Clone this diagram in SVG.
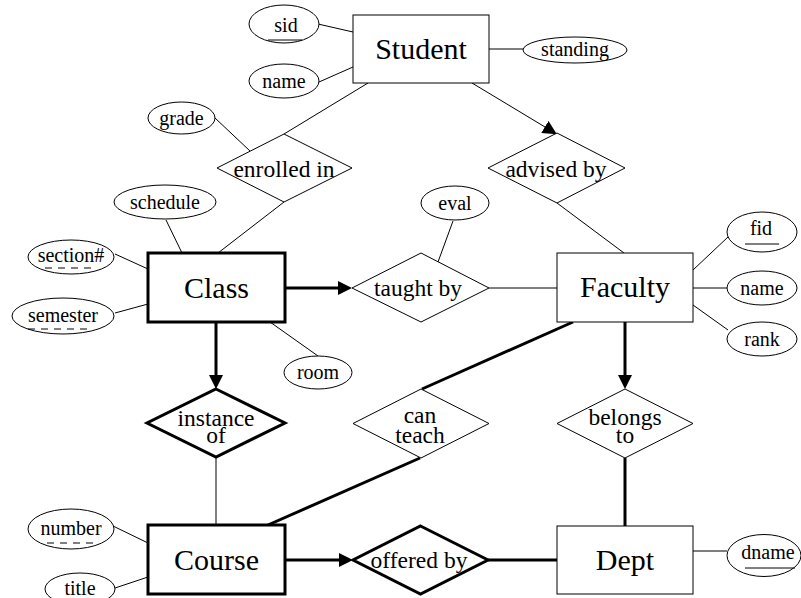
<svg xmlns="http://www.w3.org/2000/svg" width="801" height="598" viewBox="0 0 801 598">
<style>
text{font-family:"Liberation Serif","Times New Roman",serif;fill:#000;text-anchor:middle}
.ent{font-size:30px}
.rel{font-size:23.5px}
.att{font-size:20px}
.box{fill:#fff;stroke:#000;stroke-width:1}
.tbox{fill:#fff;stroke:#000;stroke-width:3}
.ell{fill:#fff;stroke:#000;stroke-width:1}
.thin{stroke:#000;stroke-width:1;fill:none}
.thick{stroke:#000;stroke-width:3;fill:none}
.key{stroke:#000;stroke-width:1}
.pkey{stroke:#000;stroke-width:1;stroke-dasharray:7 6}
</style>
<defs>
<marker id="ah" viewBox="0 0 14 14" markerUnits="userSpaceOnUse" markerWidth="14" markerHeight="14" refX="6" refY="7" orient="auto">
<path d="M0,0 L14,7 L0,14 Z" fill="#000"/>
</marker>
</defs>
<g id="connectors">
<line class="thin" x1="318" y1="24" x2="353" y2="32"/>
<line class="thin" x1="319" y1="82" x2="353" y2="67"/>
<line class="thin" x1="489" y1="49" x2="523" y2="49"/>
<line class="thin" x1="368" y1="83" x2="284" y2="134"/>
<line class="thin" x1="472" y1="83" x2="550" y2="130" marker-end="url(#ah)"/>
<line class="thin" x1="215" y1="118" x2="250" y2="151"/>
<line class="thin" x1="284" y1="202" x2="218" y2="253"/>
<line class="thin" x1="166" y1="220" x2="182" y2="253"/>
<line class="thin" x1="115" y1="254" x2="148" y2="269"/>
<line class="thin" x1="115" y1="313" x2="148" y2="304"/>
<line class="thin" x1="270" y1="322" x2="318" y2="356"/>
<line class="thick" x1="286" y1="288" x2="344" y2="288" marker-end="url(#ah)"/>
<line class="thin" x1="453" y1="221" x2="438" y2="262"/>
<line class="thin" x1="489" y1="288" x2="557" y2="288"/>
<line class="thin" x1="557" y1="203" x2="624" y2="253"/>
<line class="thin" x1="693" y1="270" x2="728" y2="237"/>
<line class="thin" x1="693" y1="288" x2="727" y2="288"/>
<line class="thin" x1="693" y1="305" x2="728" y2="330"/>
<line class="thick" x1="573" y1="322" x2="422" y2="389"/>
<line class="thick" x1="420" y1="458" x2="268" y2="525"/>
<line class="thick" x1="625" y1="322" x2="625" y2="381" marker-end="url(#ah)"/>
<line class="thick" x1="625" y1="458" x2="625" y2="526"/>
<line class="thick" x1="216" y1="322" x2="216" y2="381" marker-end="url(#ah)"/>
<line class="thin" x1="216" y1="457" x2="216" y2="525"/>
<line class="thin" x1="113" y1="526" x2="148" y2="543"/>
<line class="thin" x1="115" y1="588" x2="148" y2="577"/>
<line class="thick" x1="286" y1="560" x2="345" y2="560" marker-end="url(#ah)"/>
<line class="thick" x1="488" y1="560" x2="557" y2="560"/>
<line class="thin" x1="693" y1="551" x2="727" y2="551"/>
</g>
<g id="Student">
<rect class="box" x="353" y="15" width="136" height="68"/>
<text class="ent" x="421" y="59">Student</text>
</g>
<g id="sid">
<ellipse class="ell" cx="284" cy="24" rx="35" ry="19"/>
<text class="att" x="286" y="32">sid</text>
<line class="key" x1="268" y1="40" x2="302" y2="40"/>
</g>
<g id="student-name">
<ellipse class="ell" cx="284" cy="81" rx="35" ry="17"/>
<text class="att" x="284" y="88">name</text>
</g>
<g id="standing">
<ellipse class="ell" cx="575" cy="50" rx="52" ry="13"/>
<text class="att" x="575" y="56">standing</text>
</g>
<g id="grade">
<ellipse class="ell" cx="181.5" cy="118" rx="33.5" ry="16"/>
<text class="att" x="181.5" y="125">grade</text>
</g>
<g id="enrolled-in">
<polygon class="box" points="284,134 352,168 284,202 217,168"/>
<text class="rel" x="284" y="177">enrolled in</text>
</g>
<g id="advised-by">
<polygon class="box" points="557,133 625,168 557,203 488,168"/>
<text class="rel" x="556" y="177">advised by</text>
</g>
<g id="schedule">
<ellipse class="ell" cx="165" cy="202" rx="51" ry="17"/>
<text class="att" x="165" y="209">schedule</text>
</g>
<g id="section">
<ellipse class="ell" cx="71" cy="257" rx="43" ry="17"/>
<text class="att" x="71" y="262">section#</text>
<line class="pkey" x1="45" y1="268" x2="97" y2="268"/>
</g>
<g id="semester">
<ellipse class="ell" cx="63" cy="316" rx="51" ry="18"/>
<text class="att" x="63" y="322">semester</text>
<line class="pkey" x1="28" y1="329" x2="92" y2="329"/>
</g>
<g id="Class">
<rect class="tbox" x="148" y="253" width="137" height="69"/>
<text class="ent" x="216.5" y="298">Class</text>
</g>
<g id="room">
<ellipse class="ell" cx="318" cy="372.5" rx="34" ry="16.5"/>
<text class="att" x="318" y="379">room</text>
</g>
<g id="eval">
<ellipse class="ell" cx="455" cy="203" rx="34" ry="17"/>
<text class="att" x="455" y="210">eval</text>
</g>
<g id="taught-by">
<polygon class="box" points="421,253 489,288 421,322 352,288"/>
<text class="rel" x="418" y="296">taught by</text>
</g>
<g id="Faculty">
<rect class="box" x="557" y="253" width="136" height="69"/>
<text class="ent" x="625" y="297">Faculty</text>
</g>
<g id="fid">
<ellipse class="ell" cx="762" cy="232" rx="35" ry="20"/>
<text class="att" x="761" y="235">fid</text>
<line class="key" x1="745" y1="244" x2="779" y2="244"/>
</g>
<g id="faculty-name">
<ellipse class="ell" cx="762" cy="288" rx="35" ry="17"/>
<text class="att" x="762" y="295">name</text>
</g>
<g id="rank">
<ellipse class="ell" cx="762" cy="339" rx="35" ry="17"/>
<text class="att" x="762" y="346">rank</text>
</g>
<g id="instance-of">
<polygon class="tbox" points="216,389 285,423 216,457 147,423"/>
<text class="rel" x="216" y="426">instance</text>
<text class="rel" x="216" y="443">of</text>
</g>
<g id="can-teach">
<polygon class="box" points="421,389 489,423.5 421,458 353,423.5"/>
<text class="rel" x="420" y="423">can</text>
<text class="rel" x="420" y="443">teach</text>
</g>
<g id="belongs-to">
<polygon class="box" points="625,389 693,423.5 625,458 557,423.5"/>
<text class="rel" x="625" y="425">belongs</text>
<text class="rel" x="625" y="443">to</text>
</g>
<g id="Course">
<rect class="tbox" x="148" y="525" width="137" height="69"/>
<text class="ent" x="216.5" y="570">Course</text>
</g>
<g id="number">
<ellipse class="ell" cx="71" cy="529" rx="43" ry="20"/>
<text class="att" x="71" y="535">number</text>
<line class="pkey" x1="47" y1="543" x2="95" y2="543"/>
</g>
<g id="title">
<ellipse class="ell" cx="80" cy="589" rx="35" ry="16"/>
<text class="att" x="80" y="595">title</text>
</g>
<g id="offered-by">
<polygon class="tbox" points="420.5,526 488,560 420.5,594 353,560"/>
<text class="rel" x="419" y="568">offered by</text>
</g>
<g id="Dept">
<rect class="box" x="557" y="526" width="136" height="68"/>
<text class="ent" x="625" y="570">Dept</text>
</g>
<g id="dname">
<ellipse class="ell" cx="764" cy="555.5" rx="37" ry="21"/>
<text class="att" x="768" y="559">dname</text>
<line class="key" x1="745" y1="568" x2="795" y2="568"/>
</g>
</svg>
